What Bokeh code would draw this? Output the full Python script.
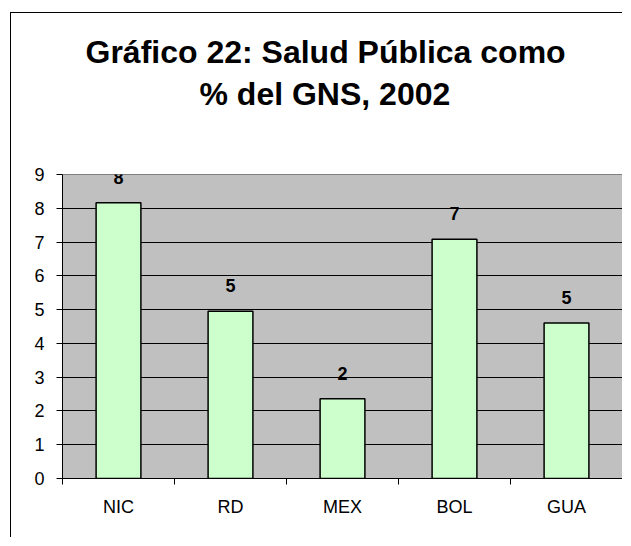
from bokeh.plotting import figure
from bokeh.models import ColumnDataSource, FixedTicker, LabelSet, Range1d, Title
from bokeh.core.properties import value
from bokeh.embed import file_html
from bokeh.resources import INLINE

categories = ["NIC", "RD", "MEX", "BOL", "GUA"]
values = [8.16, 4.95, 2.36, 7.08, 4.60]
y_ticks = [0, 1, 2, 3, 4, 5, 6, 7, 8, 9]
title_lines = ["Gráfico 22: Salud Pública como", "% del GNS, 2002"]

FONT = "Liberation Sans"

x = [i + 0.5 for i in range(len(categories))]
labels = [str(int(round(v))) for v in values]
source = ColumnDataSource(dict(x=x, top=values, label=labels))

p = figure(width=612, height=525, output_backend="svg", toolbar_location=None,
           x_range=Range1d(0, len(categories)), y_range=Range1d(y_ticks[0], y_ticks[-1]),
           min_border_left=51, min_border_right=1, min_border_top=161, min_border_bottom=60)
p.styles = {"border-left": "1px solid black", "border-top": "1px solid black",
            "margin-left": "10px", "margin-top": "12px"}

def style_title(t, offset, standoff):
    t.align = "left"
    t.vertical_align = "bottom"
    t.offset = offset
    t.standoff = standoff
    t.text_font = FONT
    t.text_font_size = "32px"
    t.text_font_style = "bold"
    t.text_color = "black"

# outermost: first title line
p.title.text = title_lines[0]
style_title(p.title, 23, 8)

# innermost: blank spacer between the title and the plot area
spacer = Title(text=" ", text_font_size="1px", standoff=60)
p.add_layout(spacer, "above")

# second title line
t2 = Title(text=title_lines[1])
style_title(t2, 137, 0)
p.add_layout(t2, "above")

p.background_fill_color = "#C0C0C0"
p.border_fill_color = "white"
p.outline_line_color = "#808080"
p.outline_line_width = 1

p.vbar(x="x", top="top", bottom=0, width=0.4, source=source,
       fill_color="#CCFFCC", line_color="black", line_width=1.5)

p.add_layout(LabelSet(x="x", y="top", text="label", source=source,
                      text_align="center", text_baseline="alphabetic", y_offset=19,
                      text_font=value(FONT), text_font_size="18px",
                      text_font_style="bold", text_color="black"))

# x axis: labels at category centres, ticks at category boundaries
p.xaxis.ticker = FixedTicker(ticks=x, minor_ticks=list(range(len(categories) + 1)))
p.xaxis.major_label_overrides = {xi: c for xi, c in zip(x, categories)}
p.xaxis.major_tick_in = 0
p.xaxis.major_tick_out = 0
p.xaxis.minor_tick_in = 0
p.xaxis.minor_tick_out = 6
p.xaxis.minor_tick_line_color = "black"
p.xaxis.major_label_standoff = 12

p.yaxis.ticker = FixedTicker(ticks=y_ticks)
p.yaxis.minor_tick_line_color = None
p.yaxis.major_tick_in = 0
p.yaxis.major_tick_out = 6
p.yaxis.major_label_standoff = 12

for ax in (p.xaxis, p.yaxis):
    ax.axis_line_color = "black"
    ax.axis_line_width = 1
    ax.major_tick_line_color = "black"
    ax.major_label_text_font = FONT
    ax.major_label_text_font_size = "18px"
    ax.major_label_text_color = "black"

p.xgrid.visible = False
p.ygrid.ticker = FixedTicker(ticks=y_ticks[1:-1])
p.ygrid.grid_line_color = "black"
p.ygrid.grid_line_width = 1

open("out.html", "w").write(file_html(p, INLINE))
